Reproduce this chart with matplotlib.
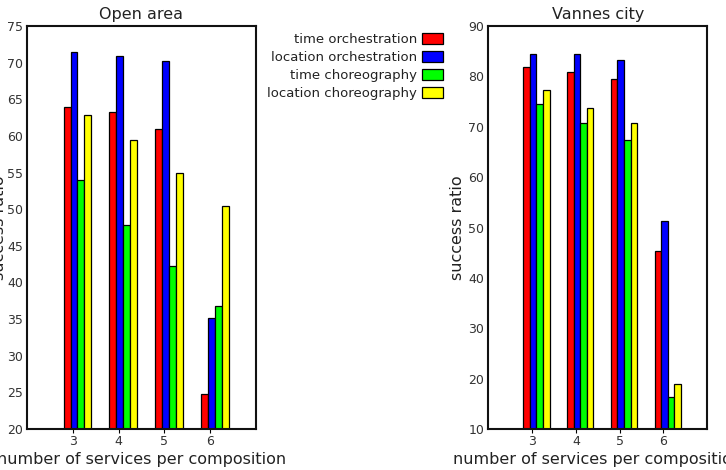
import numpy as np
import matplotlib
matplotlib.use('Agg')
import matplotlib.pyplot as plt

# number of services per composition
services = [3, 4, 5, 6]
series_names = ['time orchestration', 'location orchestration',
                'time choreography', 'location choreography']
colors = ['#ff0000', '#0000ff', '#00ff00', '#ffff00']

# Open area
open_time_orch = [64.0, 63.2, 60.9, 24.8]
open_loc_orch = [71.4, 70.9, 70.2, 35.1]
open_time_chor = [54.0, 47.9, 42.2, 36.8]
open_loc_chor = [62.8, 59.4, 55.0, 50.5]

# Vannes city
city_time_orch = [81.8, 80.8, 79.4, 45.4]
city_loc_orch = [84.4, 84.4, 83.3, 51.3]
city_time_chor = [74.5, 70.7, 67.4, 16.4]
city_loc_chor = [77.3, 73.7, 70.8, 19.0]


def draw_panel(ax, values, title, ylim, yticks, ylabel_pad):
    """画一个分组柱状图"""
    x = np.array(services, dtype=float)
    width = 0.15
    for i, vals in enumerate(values):
        ax.bar(x - 0.2 + i * width, vals, width, align='edge',
               color=colors[i], edgecolor='black', linewidth=0.9,
               label=series_names[i])
    ax.set_xlim(2, 7)
    ax.set_ylim(*ylim)
    ax.set_xticks(services)
    ax.set_yticks(yticks)
    ax.set_title(title, fontsize=11.5, color='#222222', pad=5)
    ax.set_xlabel('number of services per composition', fontsize=11.5,
                  color='#222222', labelpad=3)
    ax.set_ylabel('success ratio', fontsize=11.5, color='#222222',
                  labelpad=ylabel_pad)
    ax.tick_params(axis='x', direction='out', length=3, labelsize=9,
                   labelcolor='#333333', pad=1)
    ax.tick_params(axis='y', length=0, labelsize=9, labelcolor='#333333',
                   pad=3)
    for sp in ax.spines.values():
        sp.set_linewidth(1.5)
        sp.set_color('#111111')


fig = plt.figure(figsize=(7.26, 4.70), dpi=100)
ax1 = fig.add_axes([0.0372, 0.0872, 0.3154, 0.8575])
ax2 = fig.add_axes([0.6726, 0.0872, 0.3016, 0.8575])

draw_panel(ax1, [open_time_orch, open_loc_orch, open_time_chor, open_loc_chor],
           'Open area', (20, 75), range(20, 76, 5), 0)
draw_panel(ax2, [city_time_orch, city_loc_orch, city_time_chor, city_loc_chor],
           'Vannes city', (10, 90), range(10, 91, 10), 2)

handles, labels = ax1.get_legend_handles_labels()
fig.legend(handles, labels, loc='upper right', bbox_to_anchor=(0.627, 0.955),
           frameon=False, markerfirst=False, fontsize=9.5,
           handlelength=1.6, handleheight=0.9, handletextpad=0.4,
           labelspacing=0.38, labelcolor='#222222')

fig.savefig('out.png', dpi=100)
